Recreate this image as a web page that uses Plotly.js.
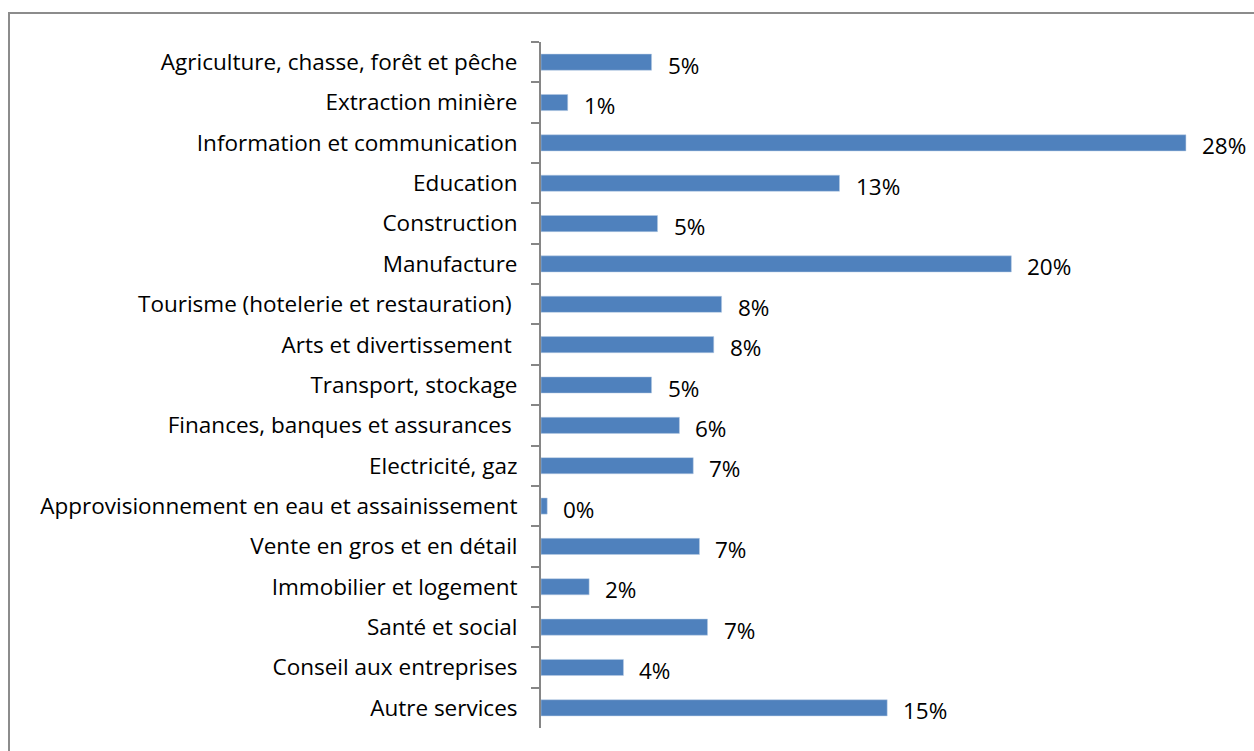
<!DOCTYPE html>
<html>
<head>
<meta charset="utf-8">
<script src="https://cdn.plot.ly/plotly-3.0.1.min.js"></script>
<style>
  html, body { margin: 0; padding: 0; background: #fff; overflow: hidden; }
  #chart { width: 1254px; height: 751px; }
  #frame { position: absolute; left: 8px; top: 12px; width: 1300px; height: 800px;
           border-left: 2px solid #8c8c8c; border-top: 2px solid #8c8c8c; pointer-events: none; }
</style>
</head>
<body>
<div id="chart"></div>
<div id="frame"></div>
<script>
const categories = [
  "Agriculture, chasse, forêt et pêche",
  "Extraction minière",
  "Information et communication",
  "Education",
  "Construction",
  "Manufacture",
  "Tourisme (hotelerie et restauration) ",
  "Arts et divertissement ",
  "Transport, stockage",
  "Finances, banques et assurances ",
  "Electricité, gaz",
  "Approvisionnement en eau et assainissement",
  "Vente en gros et en détail",
  "Immobilier et logement",
  "Santé et social",
  "Conseil aux entreprises",
  "Autre services"
];
const values = [4.8, 1.16, 28.0, 12.96, 5.06, 20.42, 7.84, 7.5, 4.8, 6.01, 6.61, 0.27, 6.88, 2.09, 7.23, 3.58, 15.03];
const valueLabels = ["5%", "1%", "28%", "13%", "5%", "20%", "8%", "8%", "5%", "6%", "7%", "0%", "7%", "2%", "7%", "4%", "15%"];

const fontFamily = "'Open Sans', Lato, sans-serif";
const fontSize = 22.5;

const trace = {
  type: "bar",
  orientation: "h",
  y: categories,
  x: values,
  marker: { color: "#4F81BD", line: { color: "#B9CDE5", width: 0.5 } },
  width: 0.4,
  hoverinfo: "none"
};

const annotations = categories.map((c, i) => ({
  x: values[i], y: c, xref: "x", yref: "y",
  text: valueLabels[i], showarrow: false,
  xanchor: "left", yanchor: "middle", xshift: 14, yshift: -3,
  font: { family: fontFamily, size: fontSize, color: "#000" }
}));

const layout = {
  width: 1254, height: 751,
  margin: { l: 541, r: 22, t: 42, b: 23, pad: 0 },
  paper_bgcolor: "#fff", plot_bgcolor: "#fff",
  showlegend: false,
  font: { family: fontFamily, size: fontSize, color: "#000" },
  xaxis: { range: [0, 30], visible: false, fixedrange: true },
  yaxis: {
    type: "category",
    categoryorder: "array", categoryarray: categories,
    range: [16.5, -0.5],
    showline: true, linecolor: "#868686", linewidth: 2,
    ticks: "outside", tickson: "boundaries", ticklen: 8, tickwidth: 2, tickcolor: "#868686",
    ticklabelstandoff: 17,
    showgrid: false, zeroline: false,
    tickfont: { family: fontFamily, size: fontSize, color: "#000" },
    fixedrange: true
  },
  annotations: annotations
};

Plotly.newPlot("chart", [trace], layout, { displayModeBar: false, staticPlot: true });
</script>
</body>
</html>
